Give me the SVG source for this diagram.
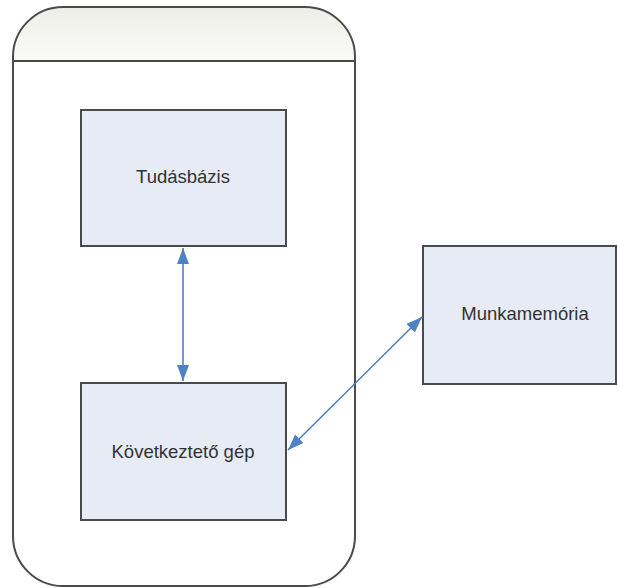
<svg xmlns="http://www.w3.org/2000/svg" width="618" height="588" viewBox="0 0 618 588">
  <style>
    .box { fill: #e6ebf6; stroke: #4a4a4a; stroke-width: 2; }
    .label { font-family: "Liberation Sans", Arial, sans-serif; font-size: 18.5px; fill: #333333; text-anchor: middle; }
    .conn { stroke: #4f81c7; stroke-width: 1.6; fill: none; marker-start: url(#arrowS); marker-end: url(#arrowE); }
  </style>
  <defs>
    <linearGradient id="hdr" x1="0" y1="0" x2="0" y2="1">
      <stop offset="0" stop-color="#eeeee8"/>
      <stop offset="1" stop-color="#fafaf8"/>
    </linearGradient>
    <marker id="arrowE" viewBox="0 0 16 12" refX="16" refY="6" markerWidth="16" markerHeight="12" orient="auto" markerUnits="userSpaceOnUse">
      <path d="M0,0 L16,6 L0,12 z" fill="#4f81c7"/>
    </marker>
    <marker id="arrowS" viewBox="0 0 16 12" refX="0" refY="6" markerWidth="16" markerHeight="12" orient="auto" markerUnits="userSpaceOnUse">
      <path d="M16,0 L0,6 L16,12 z" fill="#4f81c7"/>
    </marker>
  </defs>
  <rect width="618" height="588" fill="#ffffff"/>

  <!-- container with header band -->
  <g id="container">
    <path d="M13,61 L13,57 A50,50 0 0 1 63,7 L305,7 A50,50 0 0 1 355,57 L355,61 Z" fill="url(#hdr)"/>
    <rect x="13" y="7" width="342" height="579" rx="50" ry="50" fill="none" stroke="#4a4a4a" stroke-width="2"/>
    <line x1="13" y1="61" x2="355" y2="61" stroke="#4a4a4a" stroke-width="2"/>
  </g>

  <g id="tudasbazis">
    <rect class="box" x="81" y="110" width="205" height="136"/>
    <text class="label" x="183" y="183">Tudásbázis</text>
  </g>

  <g id="kovetkezteto">
    <rect class="box" x="81" y="383" width="205" height="137"/>
    <text class="label" x="183" y="458">Következtető gép</text>
  </g>

  <g id="munkamemoria">
    <rect class="box" x="423" y="246" width="193" height="138"/>
    <text class="label" x="525" y="320">Munkamemória</text>
  </g>

  <g id="connectors">
    <line class="conn" x1="183" y1="248" x2="183" y2="381"/>
    <line class="conn" x1="288" y1="450" x2="422" y2="317"/>
  </g>
</svg>
